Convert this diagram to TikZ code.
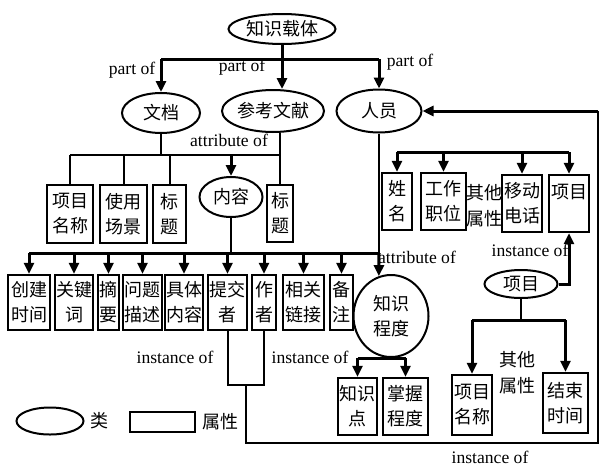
\documentclass[tikz,border=0pt]{standalone}
\usepackage{fontspec}
\setmainfont{Liberation Serif}
\newfontfamily\zh{Noto Sans CJK SC}
\usetikzlibrary{shapes.geometric,arrows.meta,positioning}

\tikzset{
  cls/.style={ellipse, draw, line width=1pt, inner sep=0pt, align=center,
    font=\zh\fontsize{9}{12.5}\selectfont},
  attr/.style={rectangle, draw, line width=1.2pt, inner sep=0pt, align=center,
    font=\zh\fontsize{9}{12.5}\selectfont},
  zhtxt/.style={align=center, inner sep=0pt, font=\zh\fontsize{9}{13}\selectfont},
  lbl/.style={inner sep=0pt, font=\fontsize{8.8}{10}\selectfont},
  ln/.style={line width=1.5pt},
  thn/.style={line width=1pt},
  arr/.style={line width=1.5pt, -{Triangle[length=5.5pt,width=5pt]}},
}

\begin{document}
\begin{tikzpicture}[x=0.5pt,y=-0.5pt]
  \useasboundingbox (0,0) rectangle (603,466);

  % classes
  \node[cls, minimum width=53.5pt, minimum height=15pt] (zs) at (282,29) {知识载体};
  \node[cls, minimum width=39pt, minimum height=20pt] (wd) at (161,113) {文档};
  \node[cls, minimum width=51pt, minimum height=21pt] (ckwx) at (273,111) {参考文献};
  \node[cls, minimum width=42.5pt, minimum height=21.5pt] (ry) at (379,111) {人员};
  \node[cls, minimum width=31.5pt, minimum height=20pt] (nr) at (231,197) {内容};
  \node[cls, minimum width=37.5pt, minimum height=41pt] (zscd) at (391,316) {知识\\程度};
  \node[cls, minimum width=36.5pt, minimum height=14pt] (xmc) at (521,284) {项目};

  % attributes of 文档 / 参考文献
  \node[attr, minimum width=23pt, minimum height=29pt] (xmmc1) at (70,214) {项目\\名称};
  \node[attr, minimum width=23.5pt, minimum height=29pt] (sycj) at (123.5,214) {使用\\场景};
  \node[attr, minimum width=16.5pt, minimum height=29pt] (bt1) at (169.5,214) {标\\题};
  \node[attr, minimum width=13pt, minimum height=28.5pt] (bt2) at (280,213.5) {标\\题};

  % attributes of 内容
  \node[attr, minimum width=21pt, minimum height=27.5pt] (cjsj) at (29,302.5) {创建\\时间};
  \node[attr, minimum width=19pt, minimum height=27.5pt] (gjc) at (74,302.5) {关键\\词};
  \node[attr, minimum width=10.5pt, minimum height=27.5pt] (zy) at (108.5,302.5) {摘\\要};
  \node[attr, minimum width=19.5pt, minimum height=27.5pt] (wtms) at (142.5,302.5) {问题\\描述};
  \node[attr, minimum width=19pt, minimum height=27.5pt] (jtnr) at (184,302.5) {具体\\内容};
  \node[attr, minimum width=19.5pt, minimum height=27.5pt] (tjz) at (227.5,302.5) {提交\\者};
  \node[attr, minimum width=12pt, minimum height=27.5pt] (zz) at (264,302.5) {作\\者};
  \node[attr, minimum width=20.5pt, minimum height=27.5pt] (xglj) at (303.5,302.5) {相关\\链接};
  \node[attr, minimum width=11.5pt, minimum height=27.5pt] (bz) at (341.5,302.5) {备\\注};

  % attributes of 人员
  \node[attr, minimum width=15pt, minimum height=28.5pt] (xm) at (397,201.5) {姓\\名};
  \node[attr, minimum width=22.5pt, minimum height=28.5pt] (gzzw) at (443.5,201.5) {工作\\职位};
  \node[zhtxt] (qtsx1) at (484,206) {其他\\属性};
  \node[attr, minimum width=20pt, minimum height=28.5pt] (yddh) at (522,203.5) {移动\\电话};
  \node[attr, minimum width=20pt, minimum height=28.5pt] (xm2) at (569,203.5) {项目\\\mbox{}};

  % attributes of 知识程度 and 项目
  \node[attr, minimum width=19.5pt, minimum height=28.5pt] (zsd) at (357.5,406.5) {知识\\点};
  \node[attr, minimum width=22.5pt, minimum height=28.5pt] (zwcd) at (405.5,406.5) {掌握\\程度};
  \node[attr, minimum width=20pt, minimum height=30pt] (xmmc2) at (472,405) {项目\\名称};
  \node[zhtxt] (qtsx2) at (517,373) {其他\\属性};
  \node[attr, minimum width=22.5pt, minimum height=30pt] (jssj) at (565.5,403) {结束\\时间};

  % part of
  \coordinate (top) at (282,59);
  \draw[ln] (zs) -- (top);
  \draw[ln] (top -| wd) -- (top -| ry);
  \draw[arr] (top -| wd) -- (wd);
  \draw[arr] (top) -- (top |- ckwx.north);
  \draw[arr] (top -| ry) -- (ry);

  % attribute of 文档 / 参考文献
  \coordinate (b1) at (0,155);
  \draw[thn] (wd) -- (wd |- b1);
  \draw[thn] (bt2 |- ckwx.south) -- (bt2);
  \draw[thn] (xmmc1 |- b1) -- (bt2 |- b1);
  \foreach \n in {xmmc1,sycj,bt1}
    \draw[thn] (\n |- b1) -- (\n);
  \draw[arr] (nr |- b1) -- (nr);

  % attribute of 内容 / 人员
  \coordinate (b2) at (0,253);
  \draw[thn] (nr) -- (nr |- b2);
  \draw[thn] (ry) -- (ry |- b2);
  \draw[ln] (cjsj |- b2) -- (ry |- b2);
  \foreach \n in {cjsj,gjc,zy,wtms,jtnr,tjz,zz,xglj,bz}
    \draw[arr] (\n |- b2) -- (\n);
  \draw[arr] (ry |- b2) -- (zscd.107);

  % 人员 attributes
  \coordinate (b5) at (0,152);
  \draw[ln] (xm |- b5) -- (xm2 |- b5);
  \foreach \n in {xm,gzzw,yddh,xm2}
    \draw[arr] (\n |- b5) -- (\n);

  % 知识程度
  \coordinate (b3) at (0,358);
  \draw[thn] (zscd) -- (zscd |- b3);
  \draw[ln] (zsd |- b3) -- (zwcd |- b3);
  \draw[arr] (zsd |- b3) -- (zsd);
  \draw[arr] (zwcd |- b3) -- (zwcd);

  % 项目
  \draw[arr] (xmc) -- (xm2 |- xmc) -- (xm2);
  \coordinate (b4) at (0,320);
  \draw[thn] (xmc) -- (xmc |- b4);
  \draw[ln] (xmmc2 |- b4) -- (jssj |- b4);
  \draw[arr] (xmmc2 |- b4) -- (xmmc2);
  \draw[arr] (jssj |- b4) -- (jssj);

  % instance of loop back to 人员
  \coordinate (u) at (246,385);
  \coordinate (rt) at (598,443);
  \draw[thn] (tjz) -- (tjz |- u) -- (zz |- u) -- (zz);
  \draw[thn] (u) -- (u |- rt) -- (rt) -- (rt |- ry);
  \draw[arr] (rt |- ry) -- (ry);

  % labels
  \node[lbl] at (132,70) {part of};
  \node[lbl] at (242,67) {part of};
  \node[lbl] at (410,62) {part of};
  \node[lbl] at (229,140) {attribute of};
  \node[lbl] at (417,257) {attribute of};
  \node[lbl] at (530,250) {instance of};
  \node[lbl] at (175,357) {instance of};
  \node[lbl] at (310,357) {instance of};
  \node[lbl] at (490,457) {instance of};

  % legend
  \node[cls, minimum width=33.5pt, minimum height=13.5pt] (lgc) at (50,421) {};
  \node[zhtxt, right=3pt of lgc] (lgct) {类};
  \node[attr, minimum width=32.5pt, minimum height=10pt] (lga) at (162.5,422) {};
  \node[zhtxt, right=3pt of lga] (lgat) {属性};
\end{tikzpicture}
\end{document}
